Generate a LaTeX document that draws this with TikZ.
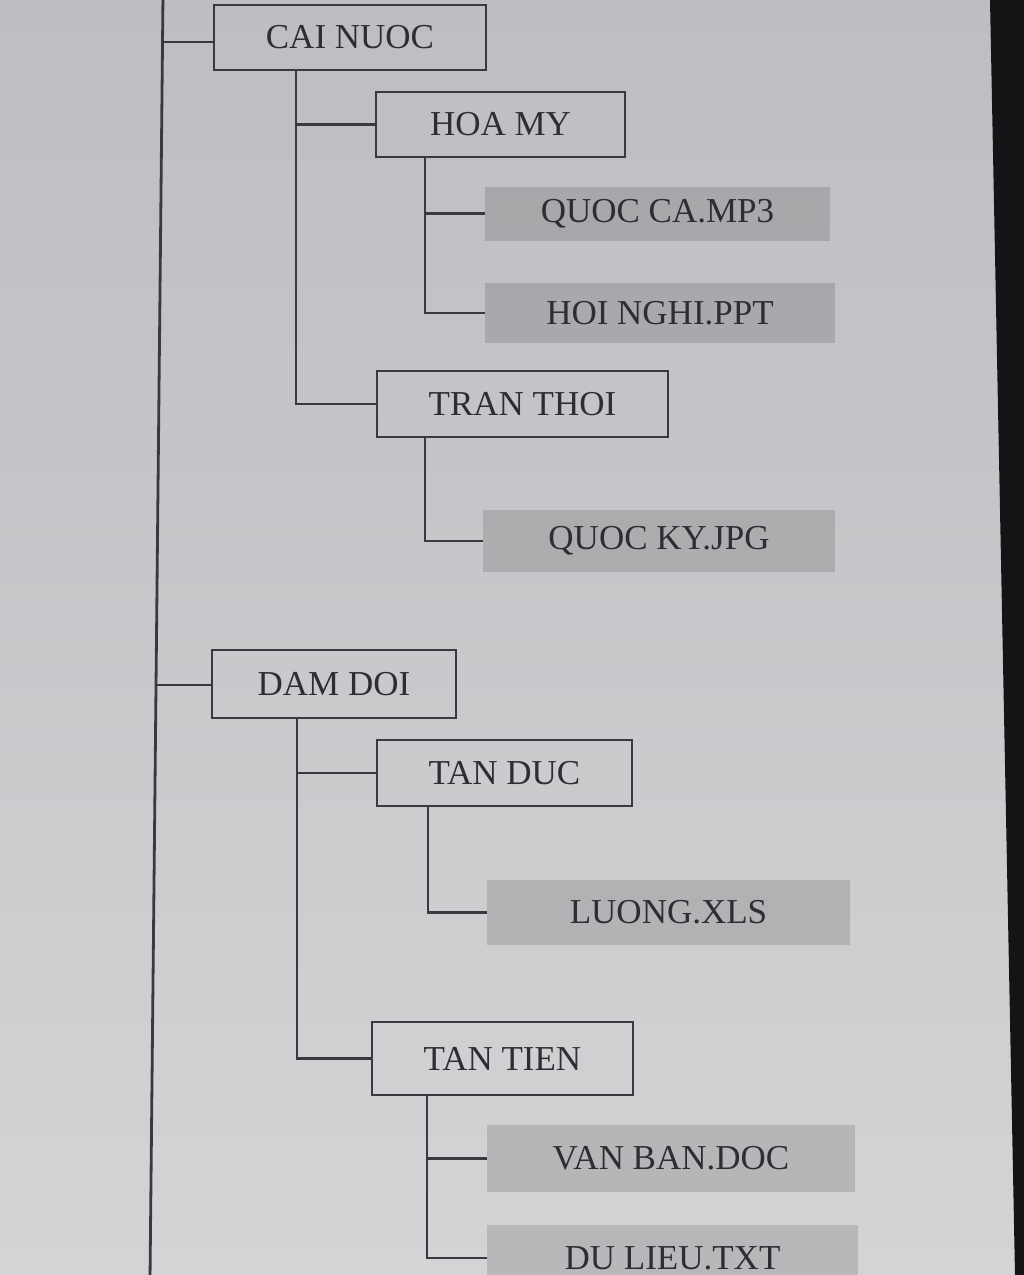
\documentclass[tikz,border=0pt]{standalone}
\usepackage{fontspec}
\setmainfont{Liberation Serif}
\definecolor{paperTop}{HTML}{BDBDC2}
\definecolor{paperBot}{HTML}{D4D4D6}
\definecolor{ink}{HTML}{3A3A3E}
\definecolor{txt}{HTML}{2E2E32}
\definecolor{edge}{HTML}{141417}
\tikzset{
  folder/.style={draw=ink, line width=2.8pt, fill=none, inner sep=0pt,
    text=txt, font=\fontsize{35}{40}\selectfont},
  filebox/.style={draw=none, fill=black, fill opacity=0.13, text opacity=1,
    inner sep=0pt, text=txt, font=\fontsize{35}{40}\selectfont},
  link/.style={draw=ink, line width=2.8pt},
}
\begin{document}
\begin{tikzpicture}[x=1pt,y=-1pt]
\useasboundingbox (0,0) rectangle (1024,1275);
\clip (0,0) rectangle (1024,1275);
\shade[top color=paperTop, bottom color=paperBot] (0,0) rectangle (1024,1275);
\fill[edge] (990,0) -- (1024,0) -- (1024,1275) -- (1015,1275) -- cycle;

% main spine
\coordinate (m1) at (163,-5);
\coordinate (m2) at (150,1280);
\coordinate (j1) at (162.4,42);
\coordinate (j2) at (156,685);
\draw[link] (m1) -- (m2);

% folders
\node[folder, minimum width=272, minimum height=65] (cai) at (350,37.5) {CAI NUOC};
\node[folder, minimum width=249, minimum height=65] (hoamy) at (500.5,124.5) {HOA MY};
\node[folder, minimum width=291, minimum height=66] (tran) at (522.5,404) {TRAN THOI};
\node[folder, minimum width=244, minimum height=68] (dam) at (334,684) {DAM DOI};
\node[folder, minimum width=255, minimum height=66] (tduc) at (504.5,773) {TAN DUC};
\node[folder, minimum width=261, minimum height=73] (ttien) at (502.5,1058.5) {TAN TIEN};

% files
\node[filebox, minimum width=345, minimum height=54] (qca) at (657.5,213.5) {QUOC CA.MP3};
\node[filebox, minimum width=350, minimum height=60] (hoi) at (660,313) {HOI NGHI.PPT};
\node[filebox, minimum width=352, minimum height=62] (qky) at (659,541) {QUOC KY.JPG};
\node[filebox, minimum width=363, minimum height=65] (luong) at (668.5,912.5) {LUONG.XLS};
\node[filebox, minimum width=368, minimum height=67] (vanban) at (671,1158.5) {VAN BAN.DOC};
\node[filebox, minimum width=371, minimum height=66] (dulieu) at (672.5,1258) {DU LIEU.TXT};

% connectors from spine
\draw[link] (j1) -- (j1 -| cai.west);
\draw[link] (j2) -- (j2 -| dam.west);

% CAI NUOC subtree
\draw[link] ([xshift=-54]cai.south) |- (hoamy.west);
\draw[link] ([xshift=-54]cai.south) |- (tran.west);
\draw[link] ([xshift=-75.5]hoamy.south) |- (qca.west);
\draw[link] ([xshift=-75.5]hoamy.south) |- (hoi.west);
\draw[link] ([xshift=-97.5]tran.south) |- (qky.west);

% DAM DOI subtree
\draw[link] ([xshift=-37]dam.south) |- (tduc.west);
\draw[link] ([xshift=-37]dam.south) |- (ttien.west);
\draw[link] ([xshift=-76.5]tduc.south) |- (luong.west);
\draw[link] ([xshift=-75.5]ttien.south) |- (vanban.west);
\draw[link] ([xshift=-75.5]ttien.south) |- (dulieu.west);
\end{tikzpicture}
\end{document}
